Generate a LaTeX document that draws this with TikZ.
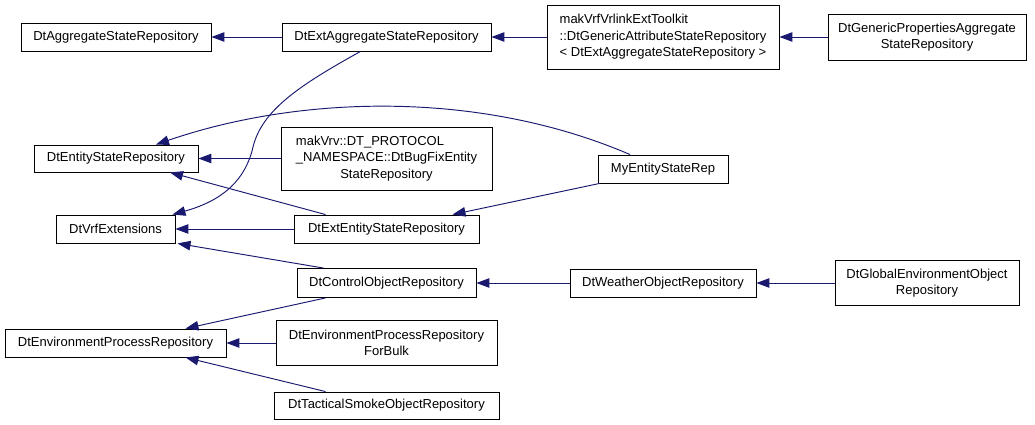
\documentclass[tikz,border=0pt]{standalone}
\usepackage{fontspec}
\setmainfont{Liberation Sans}
\usetikzlibrary{arrows.meta}
\definecolor{inhBlue}{HTML}{191970}

\begin{document}
\begin{tikzpicture}[x=1pt, y=-1pt, font=\fontsize{13}{16.5}\selectfont,
  cls/.style 2 args={draw=black, line width=0.9pt, inner sep=0pt,
    minimum width=#1pt, minimum height=#2pt},
  inh/.style={draw=inhBlue, line width=0.95pt,
    -{Triangle[length=13pt,width=9.5pt]}}]
  \useasboundingbox (0,0) rectangle (1035,425);

  % Classes, left column first
  \node[cls={190}{28}] (aggrRep) at (116,37) {DtAggregateStateRepository};
  \node[cls={164}{27}] (entityRep) at (116,158.5) {DtEntityStateRepository};
  \node[cls={119}{28}] (vrfExt) at (115.5,229) {DtVrfExtensions};
  \node[cls={221}{28}] (envProcRep) at (115.5,343) {DtEnvironmentProcessRepository};

  \node[cls={209}{28}] (extAggrRep) at (386.5,37) {DtExtAggregateStateRepository};
  \node[cls={211}{63}] (bugFixRep) at (386.5,158.5)
    {\begin{tabular}{@{}l@{}}makVrv::DT\_PROTOCOL\\\_NAMESPACE::DtBugFixEntity\\
     \multicolumn{1}{@{}c@{}}{StateRepository}\end{tabular}};
  \node[cls={185}{28}] (extEntityRep) at (386.5,229) {DtExtEntityStateRepository};
  \node[cls={179}{29}] (ctrlObjRep) at (386.5,283) {DtControlObjectRepository};
  \node[cls={221}{45}, align=center] (envBulkRep) at (386.5,343)
    {DtEnvironmentProcessRepository\\ForBulk};
  \node[cls={225}{27}] (smokeRep) at (386.5,405.5) {DtTacticalSmokeObjectRepository};

  \node[cls={232}{64}, align=left] (genAttrRep) at (663,37)
    {makVrfVrlinkExtToolkit\\::DtGenericAttributeStateRepository\\< DtExtAggregateStateRepository >};
  \node[cls={130}{28}] (myEntityRep) at (663,169) {MyEntityStateRep};
  \node[cls={186}{28}] (weatherRep) at (663,283) {DtWeatherObjectRepository};

  \node[cls={198}{46}, align=center] (genPropRep) at (927,37)
    {DtGenericPropertiesAggregate\\StateRepository};
  \node[cls={184}{45}, align=center] (globalEnvRep) at (927,283)
    {DtGlobalEnvironmentObject\\Repository};

  % Straight inheritance edges, derived -> base
  \foreach \from/\to in {extAggrRep/aggrRep, genAttrRep/extAggrRep, genPropRep/genAttrRep,
      bugFixRep/entityRep, extEntityRep/vrfExt, weatherRep/ctrlObjRep,
      globalEnvRep/weatherRep, envBulkRep/envProcRep}{
    \draw[inh] (\from.west) -- (\to.east);
  }

  % Slanted edges
  \draw[inh] ([xshift=-61pt]extEntityRep.north) -- ([xshift=54pt]entityRep.south);
  \draw[inh] ([xshift=2pt]myEntityRep.south west) -- ([xshift=66pt]extEntityRep.north);
  \draw[inh] ([xshift=-63pt]ctrlObjRep.north) -- ([xshift=62pt]vrfExt.south);
  \draw[inh] ([xshift=-61pt]ctrlObjRep.south) -- ([xshift=70pt]envProcRep.north);
  \draw[inh] ([xshift=-61pt]smokeRep.north) -- ([xshift=70pt]envProcRep.south);

  % Curved edges
  \draw[inh] ([xshift=-26pt]extAggrRep.south) .. controls (300,85) and (262,110) .. (253,147)
    .. controls (246,178) and (225,200) .. ([xshift=-3pt]vrfExt.north east);
  \draw[inh] ([xshift=-33pt]myEntityRep.north) .. controls (480,90) and (300,95)
    .. ([xshift=40pt]entityRep.north);

\end{tikzpicture}
\end{document}
